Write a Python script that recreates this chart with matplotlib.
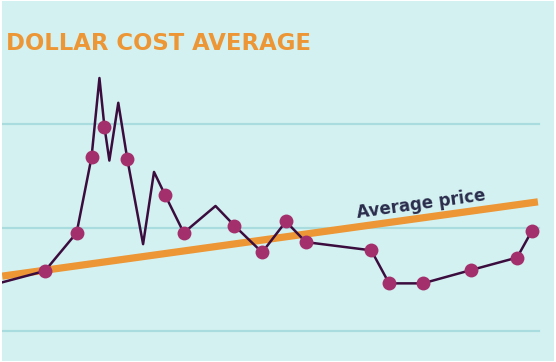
#! /usr/bin/env python
# -*- coding: utf-8 -*-

# Dollar cost average illustration: price path, purchase points and average price line

import matplotlib
matplotlib.use("Agg")
import matplotlib.pyplot as plt
import numpy as np

# price path (day, price)
days = [0, 43, 75, 90, 98, 103, 108, 117, 126, 142, 153, 164, 183, 215,
        234, 262, 286, 306, 372, 390, 424, 473, 519, 534]
prices = [14.7, 15.8, 19.5, 26.8, 34.5, 29.8, 26.5, 32.1, 26.7, 18.4, 25.4,
          23.2, 19.5, 22.1, 20.2, 17.6, 20.6, 18.6, 17.8, 14.6, 14.6, 15.9,
          17.1, 19.7]
# regular purchases are marked on the path
buy_days = [43, 75, 90, 103, 126, 164, 183, 234, 262, 286, 306, 372, 390,
            424, 473, 519, 534]
# average price line
avg_days = [0, 540]
avg_prices = [15.3, 22.5]
grid_levels = [10, 20, 30]

BG = "#d4f1f1"
GRID = "#a9dcde"
LINE = "#3b0d3f"
DOT = "#a3306c"
ORANGE = "#ec9636"
NAVY = "#2a2c4c"


def generate_plot():
    fig = plt.figure(figsize=(5.56, 3.62), dpi=100)
    fig.patch.set_facecolor("white")
    ax = fig.add_axes([0.004, 0.004, 0.992, 0.992])
    ax.set_facecolor(BG)
    ax.set_xlim(0, 556)
    ax.set_ylim(7.12, 41.92)
    for lv in grid_levels:
        ax.axhline(lv, xmin=0, xmax=541 / 556, color=GRID, lw=1.6, zorder=1)

    ax.plot(avg_days, avg_prices, color=ORANGE, lw=5.2, solid_capstyle="butt", zorder=2)
    ax.plot(days, prices, color=LINE, lw=1.8, zorder=3)
    lookup = dict(zip(days, prices))
    ax.plot(buy_days, [lookup[d] for d in buy_days], "o", color=DOT, ms=10,
            mew=0, zorder=4)

    # label along the orange line
    p1 = ax.transData.transform((avg_days[0], avg_prices[0]))
    p2 = ax.transData.transform((avg_days[1], avg_prices[1]))
    ang = np.degrees(np.arctan2(p2[1] - p1[1], p2[0] - p1[0]))
    ax.text(422, 22.3, "Average price", rotation=ang, rotation_mode="anchor",
            ha="center", va="center", color=NAVY, fontsize=12, fontweight="bold",
            family="DejaVu Sans", zorder=5)

    fig.text(6 / 556, 1 - 44 / 362, "DOLLAR COST AVERAGE", color=ORANGE,
             fontsize=16.4, fontweight="bold", family="DejaVu Sans",
             ha="left", va="center")

    ax.set_xticks([])
    ax.set_yticks([])
    for s in ax.spines.values():
        s.set_visible(False)
    fig.savefig("out.png", dpi=100, facecolor=fig.get_facecolor())


if __name__ == "__main__":
    generate_plot()
